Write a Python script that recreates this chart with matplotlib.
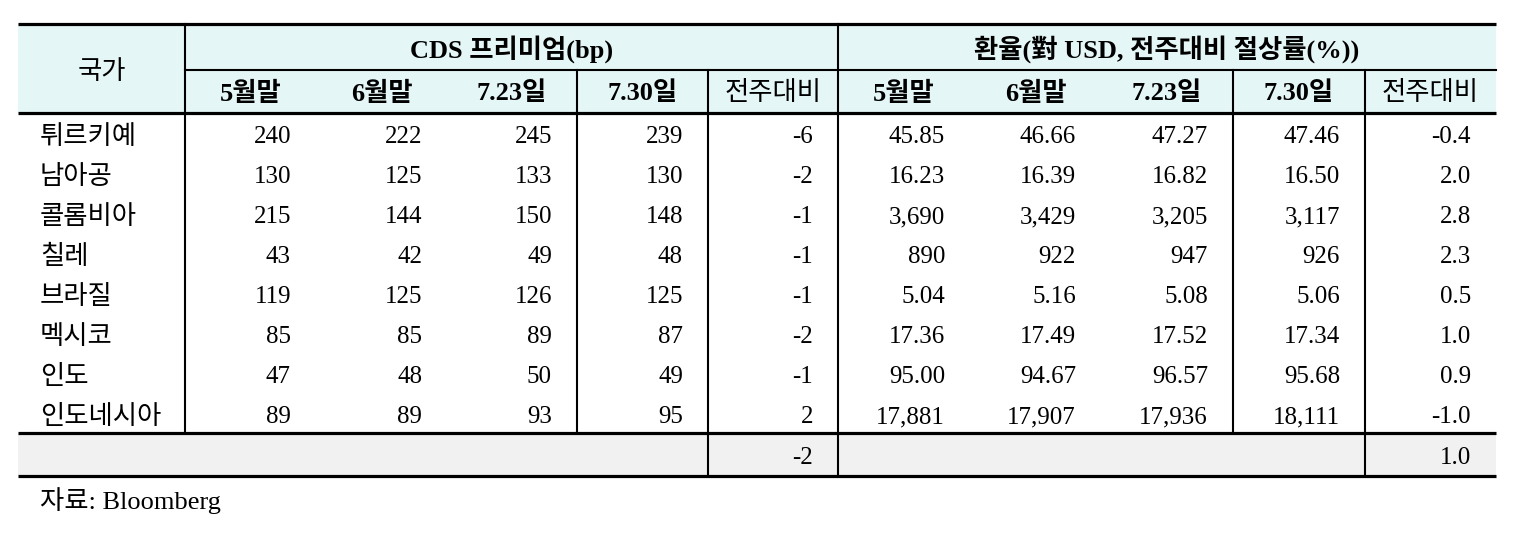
import matplotlib
matplotlib.use("Agg")
from matplotlib import pyplot as plt
from matplotlib.patches import Rectangle

plt.rcParams['font.family'] = ['Liberation Serif', 'Noto Sans CJK KR']

countries = ["튀르키예", "남아공", "콜롬비아", "칠레", "브라질", "멕시코", "인도", "인도네시아"]
periods = ["5월말", "6월말", "7.23일", "7.30일", "전주대비"]

cds_may = [240, 130, 215, 43, 119, 85, 47, 89]
cds_jun = [222, 125, 144, 42, 125, 85, 48, 89]
cds_0723 = [245, 133, 150, 49, 126, 89, 50, 93]
cds_0730 = [239, 130, 148, 48, 125, 87, 49, 95]
cds_chg = [-6, -2, -1, -1, -1, -2, -1, 2]
cds_avg_chg = -2

fx_may = [45.85, 16.23, 3690, 890, 5.04, 17.36, 95.00, 17881]
fx_jun = [46.66, 16.39, 3429, 922, 5.16, 17.49, 94.67, 17907]
fx_0723 = [47.27, 16.82, 3205, 947, 5.08, 17.52, 96.57, 17936]
fx_0730 = [47.46, 16.50, 3117, 926, 5.06, 17.34, 95.68, 18111]
fx_chg = [-0.4, 2.0, 2.8, 2.3, 0.5, 1.0, 0.9, -1.0]
fx_avg_chg = 1.0


def fmt_fx(v):
    if v >= 100 and float(v).is_integer():
        return f"{int(v):,}"
    return f"{v:.2f}"


W, H = 1528, 535
fig = plt.figure(figsize=(W / 100, H / 100), dpi=100)
ax = fig.add_axes([0, 0, 1, 1])
ax.set_xlim(0, W)
ax.set_ylim(H, 0)
ax.axis('off')

# table geometry (pixels)
left, right = 18, 1496
y_top, y_mid, y_head, y_body, y_end = 24, 70, 113, 433, 476
row_h = 40
col_x = [185, 316, 447, 577, 708, 838, 970, 1101, 1233, 1365, 1496]

header_bg = "#E5F6F6"
foot_bg = "#F1F1F1"
thick, thin = 2.3, 1.5

ax.add_patch(Rectangle((left, y_top), right - left, y_head - y_top,
                       facecolor=header_bg, edgecolor='none'))
ax.add_patch(Rectangle((left, y_body), right - left, y_end - y_body,
                       facecolor=foot_bg, edgecolor='none'))

# horizontal rules
for y in (y_top, y_head, y_body, y_end):
    ax.plot([left, right], [y, y], color='black', lw=thick, solid_capstyle='butt')
ax.plot([col_x[0], right], [y_mid, y_mid], color='black', lw=thin)

# vertical rules
ax.plot([185, 185], [y_top, y_body], color='black', lw=thin)
ax.plot([838, 838], [y_top, y_end], color='black', lw=thin)
for x in (577, 1233):
    ax.plot([x, x], [y_mid, y_body], color='black', lw=thin)
for x in (708, 1365):
    ax.plot([x, x], [y_mid, y_end], color='black', lw=thin)

fs = 18
fs_kr = 19

# headers
ax.text((left + 185) / 2, (y_top + y_head) / 2 + 4, "국가", ha='center', va='center', fontsize=fs_kr)
ax.text((185 + 838) / 2, (y_top + y_mid) / 2 + 2, "CDS 프리미엄(bp)", ha='center', va='center',
        fontsize=fs_kr, fontweight='bold')
ax.text((838 + 1496) / 2, (y_top + y_mid) / 2 + 2, "환율(對 USD, 전주대비 절상률(%))", ha='center',
        va='center', fontsize=fs_kr, fontweight='bold')
for block in (0, 5):
    for k, p in enumerate(periods):
        x0, x1 = col_x[block + k], col_x[block + k + 1]
        ax.text((x0 + x1) / 2, (y_mid + y_head) / 2 + 2, p, ha='center', va='center',
                fontsize=fs_kr, fontweight='normal' if p == "전주대비" else 'bold')

# body
cds_cols = [cds_may, cds_jun, cds_0723, cds_0730, cds_chg]
fx_cols = [fx_may, fx_jun, fx_0723, fx_0730, fx_chg]
pad = 25
for i, name in enumerate(countries):
    yc = y_head + row_h * i + row_h / 2 + 4
    ax.text(40, yc, name, ha='left', va='center', fontsize=fs_kr)
    for k, col in enumerate(cds_cols):
        ax.text(col_x[k + 1] - pad, yc, f"{col[i]}", ha='right', va='center', fontsize=fs)
    for k, col in enumerate(fx_cols):
        txt = f"{col[i]:.1f}" if k == 4 else fmt_fx(col[i])
        ax.text(col_x[k + 6] - pad, yc, txt, ha='right', va='center', fontsize=fs)

# footer row
yf = (y_body + y_end) / 2 + 3
ax.text(838 - pad, yf, f"{cds_avg_chg}", ha='right', va='center', fontsize=fs)
ax.text(1496 - pad, yf, f"{fx_avg_chg:.1f}", ha='right', va='center', fontsize=fs)

ax.text(40, 501, "자료: Bloomberg", ha='left', va='center', fontsize=fs_kr)

fig.savefig("out.png", dpi=100, facecolor='white')
